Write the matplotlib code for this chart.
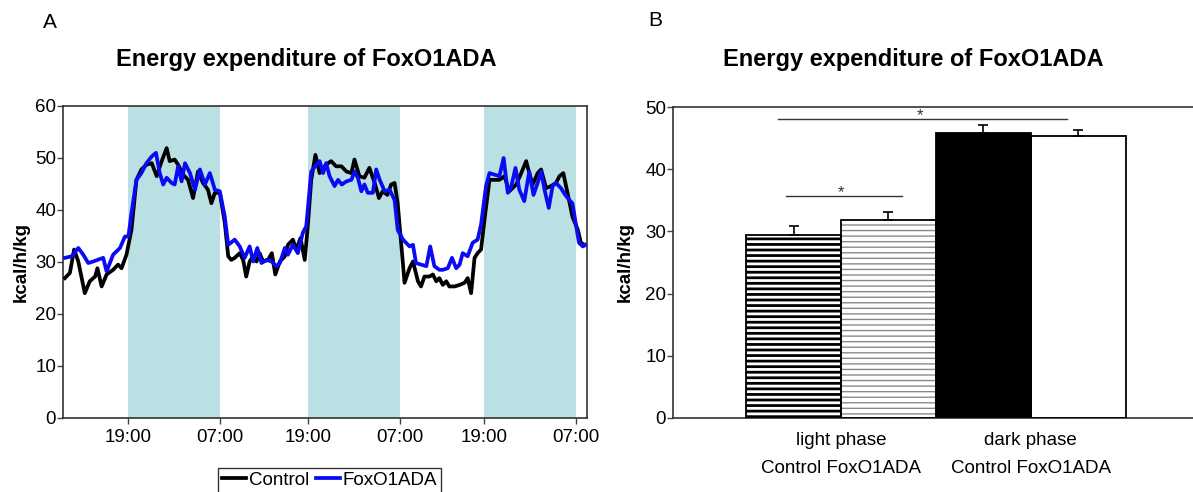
import matplotlib
matplotlib.use("Agg")
import matplotlib.pyplot as plt
from matplotlib.lines import Line2D
from matplotlib.transforms import blended_transform_factory

plt.rcParams['font.family'] = ['Liberation Sans', 'DejaVu Sans']

# ---------------- Panel A: energy expenditure time course ----------------
# x = sample number along the recording, y = kcal/h/kg
ctrl_t = [0.5, 1.8, 2.9, 4.0, 5.7, 7.0, 8.4, 9.0, 10.1, 11.4, 13.1, 14.4, 15.3, 16.6,
          17.9, 19.2, 20.5, 21.8, 23.2, 24.5, 25.8, 27.1, 27.9, 29.2, 30.1, 31.4, 32.7,
          34.0, 35.3, 36.6, 37.9, 38.8, 39.7, 41.0, 42.3, 43.2, 44.0,
          44.9, 46.2, 47.1, 47.9, 48.8, 49.7, 50.6, 51.4, 52.3, 53.6, 54.6, 55.5, 56.7,
          58.0, 58.8, 60.1, 61.0, 62.1, 63.2, 64.0, 64.9, 66.0, 67.1, 68.4, 69.3, 70.1,
          71.4, 72.8, 74.1, 75.4, 76.2, 77.5, 78.8, 80.1, 81.5, 82.6, 83.6, 84.8, 85.8,
          86.7, 87.5, 88.4, 89.3,
          90.6, 91.5, 92.8, 93.6, 94.5, 95.8, 96.7, 97.6, 98.4, 99.3, 100.2, 101.0, 102.4,
          103.7, 105.0, 105.8, 106.7, 107.6, 108.4, 109.3, 110.2, 111.5, 112.8, 114.1,
          115.4, 116.7, 118.5, 119.8, 121.1, 121.9, 122.8, 124.1, 125.0, 126.3, 127.6,
          128.9, 129.8, 130.8, 131.9, 133.2, 134.6, 135.4, 136.3]
ctrl_v = [26.9, 27.9, 32.4, 30.1, 24.0, 26.3, 27.2, 28.8, 25.3, 27.6, 28.5, 29.5, 28.8, 31.4,
          36.2, 45.8, 47.8, 48.7, 49.0, 46.5, 49.4, 51.9, 49.4, 49.7, 48.7, 46.8, 45.8,
          42.3, 47.4, 45.2, 43.9, 41.3, 43.3, 43.3, 37.5, 31.1, 30.4,
          30.8, 31.7, 30.4, 27.2, 30.1, 31.1, 30.1, 31.7, 30.1, 30.4, 31.7, 27.6, 30.1,
          31.1, 33.3, 34.3, 32.4, 34.6, 30.4, 36.9, 45.8, 50.6, 47.1, 48.4, 49.0, 49.4,
          48.4, 48.4, 47.4, 47.1, 49.7, 46.5, 46.2, 48.1, 45.2, 42.3, 43.6, 42.9, 44.9,
          45.2, 41.3, 33.7, 26.0,
          28.8, 30.1, 26.3, 25.3, 27.2, 27.2, 27.6, 26.3, 26.9, 25.6, 26.3, 25.3, 25.3,
          25.6, 26.0, 26.9, 24.0, 30.8, 31.7, 32.4, 38.1, 45.8, 45.8, 45.8,
          46.5, 43.6, 44.9, 47.1, 49.4, 47.1, 44.9, 47.1, 47.8, 44.2, 44.6,
          45.2, 46.5, 47.1, 43.3, 38.7, 36.2, 33.7, 33.3]

fox_t = [0.5, 2.3, 4.0, 5.3, 6.6, 7.9, 10.5, 11.4, 13.1, 14.9, 16.2, 17.1, 17.9, 19.2,
         20.5, 21.8, 23.2, 24.3, 25.3, 26.2, 27.1, 28.4, 29.2, 30.1, 31.0, 31.9, 33.2,
         34.5, 35.8, 37.1, 38.4, 39.7, 41.0, 42.3, 43.2,
         44.9, 46.2, 47.5, 48.8, 49.7, 50.8, 51.9, 53.2, 54.5, 55.8, 56.7, 58.0, 58.8,
         60.1, 61.4, 62.7, 63.6, 64.9, 66.2, 67.1, 68.0, 68.8, 69.7, 71.0, 71.9, 72.9,
         74.1, 75.4, 76.2, 77.1, 78.0, 78.8, 79.7, 81.0, 81.9, 82.8, 84.1, 85.4, 86.7,
         87.5, 88.9,
         90.6, 91.5, 92.3, 93.6, 95.0, 96.0, 97.1, 98.4, 99.3, 100.6, 101.7, 102.8, 103.7,
         104.5, 105.8, 107.1, 108.4, 109.3, 110.6, 111.5, 112.8, 114.1, 115.2, 116.3,
         117.1, 118.3, 119.3, 120.6, 121.9, 123.0, 124.1, 125.0, 125.9, 127.0, 128.0,
         128.9, 130.2, 131.3, 132.4, 133.2, 133.9, 134.9, 135.9, 136.6]
fox_v = [30.8, 31.1, 32.7, 31.4, 29.8, 30.1, 30.8, 28.2, 31.4, 32.7, 34.9, 34.9, 39.4, 45.8,
         47.1, 49.0, 50.3, 51.0, 47.1, 44.9, 46.2, 45.2, 44.9, 48.4, 45.5, 49.0, 47.1,
         43.9, 47.8, 44.9, 47.1, 43.9, 43.6, 38.7, 33.3,
         34.3, 33.0, 30.8, 33.0, 30.1, 32.7, 29.8, 30.4, 30.1, 29.2, 29.8, 32.7, 31.4,
         33.3, 31.7, 35.6, 36.9, 47.4, 48.7, 49.4, 47.1, 49.0, 46.5, 44.6, 45.8, 44.9,
         45.5, 45.8, 47.4, 46.2, 43.6, 44.9, 43.3, 43.3, 47.8, 45.8, 43.6, 43.9, 41.9,
         36.2, 34.3,
         33.0, 33.3, 29.8, 29.5, 29.2, 33.0, 29.2, 28.5, 28.5, 28.8, 30.8, 28.8, 29.5,
         31.7, 31.1, 33.7, 34.3, 37.2, 44.6, 47.1, 46.8, 46.5, 50.0, 43.3,
         44.2, 48.1, 43.9, 41.7, 47.4, 42.9, 45.2, 47.4, 43.9, 40.4, 44.6,
         45.2, 44.2, 42.9, 41.9, 41.3, 38.1, 33.7, 33.0, 33.3]

time_ticks = [17, 41, 64, 88, 110, 134]
time_labels = ['19:00', '07:00', '19:00', '07:00', '19:00', '07:00']
dark_phases = [(17, 41), (64, 88), (110, 134)]

# ---------------- Panel B: phase averages ----------------
group_names = ['light phase', 'dark phase']
bar_names = ['Control', 'FoxO1ADA', 'Control', 'FoxO1ADA']
bar_means = [29.5, 31.9, 45.9, 45.3]
bar_sem = [1.4, 1.2, 1.2, 1.0]

W, H = 1193, 492
fig = plt.figure(figsize=(W / 100, H / 100), dpi=100)

def fx(px):
    return px / W

def fy(py):
    return 1 - py / H

FS = 13.5
LW = 2.7

# ---- panel A ----
axA = fig.add_axes([fx(63), fy(418), fx(587) - fx(63), fy(106) - fy(418)])
for a, b in dark_phases:
    axA.axvspan(a, b, color='#bbe0e3', lw=0, zorder=0)
axA.plot(ctrl_t, ctrl_v, color='black', lw=LW, zorder=3)
axA.plot(fox_t, fox_v, color='#0a0af5', lw=LW, zorder=4)
axA.set_xlim(0, 137)
axA.set_ylim(0, 60)
axA.set_yticks(range(0, 61, 10))
axA.set_xticks(time_ticks)
axA.set_xticklabels(time_labels)
axA.set_ylabel('kcal/h/kg', fontsize=FS, fontweight='bold', labelpad=4)
axA.tick_params(labelsize=FS, length=4, width=1, color='#444444', pad=1)
axA.tick_params(axis='x', pad=4)
for s in axA.spines.values():
    s.set_color('#333333')
    s.set_linewidth(1.2)

handles = [Line2D([], [], color='black', lw=LW),
           Line2D([], [], color='#0a0af5', lw=LW)]
leg = fig.legend(handles, ['Control', 'FoxO1ADA'], loc='upper left',
                 bbox_to_anchor=(fx(218), fy(468)), ncol=2, fontsize=FS,
                 frameon=True, fancybox=False, handlelength=1.3,
                 handletextpad=0.15, columnspacing=0.35, borderpad=0.2,
                 borderaxespad=0)
leg.get_frame().set_edgecolor('black')
leg.get_frame().set_linewidth(1.0)

fig.text(fx(306), fy(66), 'Energy expenditure of FoxO1ADA', ha='center',
         va='baseline', fontsize=17, fontweight='bold')
fig.text(fx(43), fy(28), 'A', ha='left', va='baseline', fontsize=15)

# ---- panel B ----
axB = fig.add_axes([fx(673), fy(418), 1 - fx(673), fy(107) - fy(418)])
xs = list(range(len(bar_means)))
styles = [
    dict(face='black', hatch='---', hcol='white', hlw=2.0),
    dict(face='white', hatch='---', hcol='#8a8a8a', hlw=1.0),
    dict(face='black', hatch=None, hcol='black', hlw=1.0),
    dict(face='white', hatch=None, hcol='black', hlw=1.0),
]
for x, m, st in zip(xs, bar_means, styles):
    with plt.rc_context({'hatch.linewidth': st['hlw']}):
        b = axB.bar(x, m, width=1.0, color=st['face'], edgecolor=st['hcol'],
                    hatch=st['hatch'], linewidth=0, zorder=2)[0]
        if hasattr(b, 'set_hatch_linewidth'):
            b.set_hatch_linewidth(st['hlw'])
    axB.bar(x, m, width=1.0, fill=False, edgecolor='black', linewidth=1.3, zorder=3)
axB.errorbar(xs, bar_means, yerr=[[0] * len(bar_sem), bar_sem], fmt='none',
             ecolor='black', elinewidth=1.2, capsize=3.5, capthick=1.2, zorder=4)

# significance brackets
sig = [(-0.16, 2.88, 48.0), (-0.08, 1.14, 35.7)]
for x0, x1, yv in sig:
    axB.plot([x0, x1], [yv, yv], color='#333333', lw=1.0, zorder=4)
    axB.text((x0 + x1) / 2 - 0.03, yv + 0.55, '*', ha='center', va='center',
             fontsize=12, color='#333333')

axB.set_xlim(-1.27, 4.21)
axB.set_ylim(0, 50)
axB.set_yticks(range(0, 51, 10))
axB.set_xticks([])
axB.spines['right'].set_visible(False)
for s in ['left', 'top', 'bottom']:
    axB.spines[s].set_color('#333333')
    axB.spines[s].set_linewidth(1.2)
axB.tick_params(axis='y', labelsize=FS, length=4, width=1, color='#444444', pad=1)
axB.set_ylabel('kcal/h/kg', fontsize=FS, fontweight='bold', labelpad=8)

trB = blended_transform_factory(axB.transData, axB.transAxes)
for i, g in enumerate(group_names):
    xc = (xs[2 * i] + xs[2 * i + 1]) / 2
    axB.text(xc, -0.071, g, transform=trB, ha='center', va='center', fontsize=FS)
    axB.text(xc, -0.161, bar_names[2 * i] + ' ' + bar_names[2 * i + 1],
             transform=trB, ha='center', va='center', fontsize=FS)

fig.text(fx(913), fy(66), 'Energy expenditure of FoxO1ADA', ha='center',
         va='baseline', fontsize=17, fontweight='bold')
fig.text(fx(648), fy(26), 'B', ha='left', va='baseline', fontsize=15)

fig.savefig('out.png', dpi=100)
